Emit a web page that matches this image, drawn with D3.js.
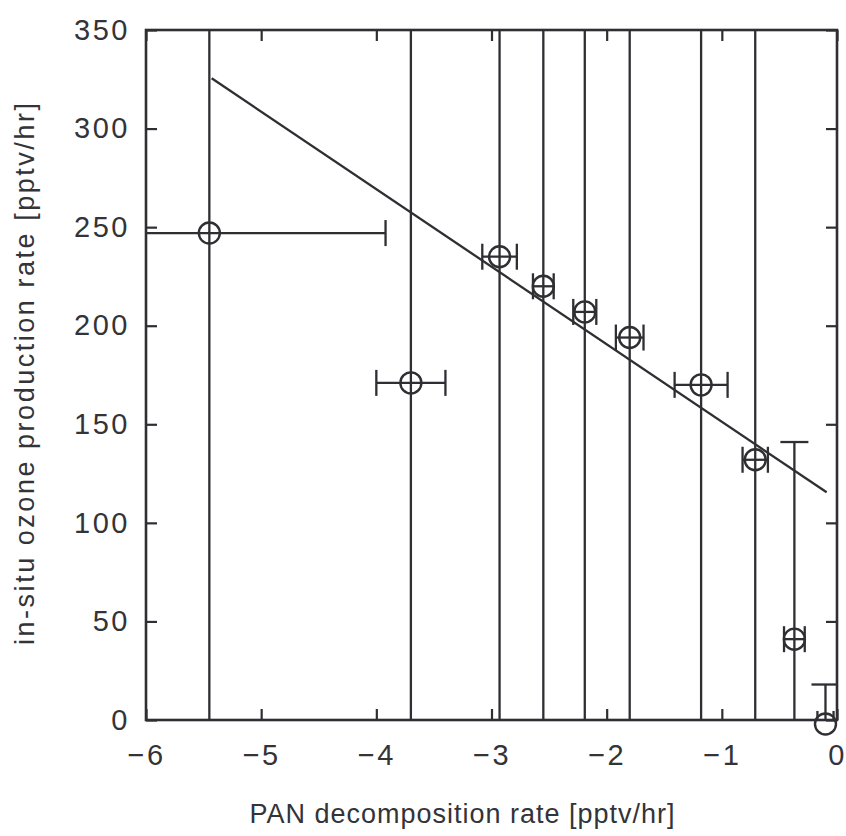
<!DOCTYPE html>
<html>
<head>
<meta charset="utf-8">
<script src="https://cdn.jsdelivr.net/npm/d3@7"></script>
<style>
  html, body { margin: 0; padding: 0; background: #ffffff; }
  svg { display: block; }
  text { font-family: "Liberation Sans", Arial, sans-serif; fill: #333338; }
</style>
</head>
<body>
<svg id="chart" width="846" height="836"></svg>
<script>
// ---- data ----
const pointX    = [-5.45, -3.70, -2.93, -2.55, -2.19, -1.80, -1.18, -0.71, -0.37, -0.10];
const pointY    = [247, 171, 235, 220, 207, 194, 170, 132, 41, -2];
const xErr      = [1.53, 0.30, 0.15, 0.09, 0.10, 0.12, 0.23, 0.11, 0.09, 0.07];
const yErr      = [400, 400, 400, 400, 400, 400, 400, 400, 100, 20]; // first eight run off the plot
const fitX      = [-5.43, -0.09];
const fitY      = [325.5, 115.5];
const xTicks    = [-6, -5, -4, -3, -2, -1, 0];
const yTicks    = [0, 50, 100, 150, 200, 250, 300, 350];
const xLabel    = "PAN decomposition rate [pptv/hr]";
const yLabel    = "in-situ ozone production rate [pptv/hr]";

// ---- layout ----
const L = 146, R = 837, T = 30, B = 720;
const ink = "#2e2e33";
const svg = d3.select("#chart");

const x = d3.scaleLinear().domain([-6, 0]).range([L, R]);
const y = d3.scaleLinear().domain([0, 350]).range([B, T]);

svg.append("defs").append("clipPath").attr("id", "plotClip")
  .append("rect").attr("x", L).attr("y", T).attr("width", R - L).attr("height", B - T);

// axes with inward ticks on all four sides
const fmt = d => d < 0 ? "\u2212" + Math.abs(d) : String(d);
const tickLen = 11;

const gBottom = svg.append("g").attr("transform", `translate(0,${B})`)
  .call(d3.axisBottom(x).tickValues(xTicks).tickSizeInner(-tickLen).tickSizeOuter(0).tickPadding(24).tickFormat(fmt));
const gTop = svg.append("g").attr("transform", `translate(0,${T})`)
  .call(d3.axisTop(x).tickValues(xTicks).tickSizeInner(-tickLen).tickSizeOuter(0).tickFormat(""));
const gLeft = svg.append("g").attr("transform", `translate(${L},0)`)
  .call(d3.axisLeft(y).tickValues(yTicks).tickSizeInner(-tickLen).tickSizeOuter(0).tickPadding(16).tickFormat(fmt));
const gRight = svg.append("g").attr("transform", `translate(${R},0)`)
  .call(d3.axisRight(y).tickValues(yTicks).tickSizeInner(-tickLen).tickSizeOuter(0).tickFormat(""));

[gBottom, gTop, gLeft, gRight].forEach(g => {
  g.select(".domain").remove();
  g.selectAll(".tick line").attr("stroke", ink).attr("stroke-width", 2.2);
  g.selectAll(".tick text")
    .style("font-family", "'Liberation Sans', Arial, sans-serif")
    .style("font-size", "29px")
    .style("letter-spacing", "2.5px")
    .attr("fill", "#333338");
});
gBottom.selectAll(".tick text").attr("dy", "0.71em");

// frame
svg.append("rect").attr("x", L).attr("y", T).attr("width", R - L).attr("height", B - T)
  .attr("fill", "none").attr("stroke", ink).attr("stroke-width", 2.6);

const pts = pointX.map((v, i) => ({ x: v, y: pointY[i], ex: xErr[i], ey: yErr[i] }));

// error bars (clipped to frame)
const gErr = svg.append("g").attr("clip-path", "url(#plotClip)")
  .attr("stroke", ink).attr("stroke-width", 2.3).attr("fill", "none");
const capX = 13, capY = 14;
pts.forEach(p => {
  gErr.append("line").attr("x1", x(p.x)).attr("x2", x(p.x))
    .attr("y1", y(p.y - p.ey)).attr("y2", y(p.y + p.ey));
  [p.y - p.ey, p.y + p.ey].forEach(v => {
    gErr.append("line").attr("x1", x(p.x) - capY).attr("x2", x(p.x) + capY)
      .attr("y1", y(v)).attr("y2", y(v));
  });
  gErr.append("line").attr("x1", x(p.x - p.ex)).attr("x2", x(p.x + p.ex))
    .attr("y1", y(p.y)).attr("y2", y(p.y));
  [p.x - p.ex, p.x + p.ex].forEach(v => {
    gErr.append("line").attr("x1", x(v)).attr("x2", x(v))
      .attr("y1", y(p.y) - capX).attr("y2", y(p.y) + capX);
  });
});

// fit line
svg.append("path")
  .datum(fitX.map((v, i) => [v, fitY[i]]))
  .attr("d", d3.line().x(d => x(d[0])).y(d => y(d[1])))
  .attr("stroke", ink).attr("stroke-width", 2.3).attr("fill", "none");

// markers
svg.append("g").selectAll("circle").data(pts).join("circle")
  .attr("cx", d => x(d.x)).attr("cy", d => y(d.y)).attr("r", 10.5)
  .attr("fill", "none").attr("stroke", ink).attr("stroke-width", 2.4);

// axis titles
svg.append("text").attr("x", 462).attr("y", 823).attr("text-anchor", "middle")
  .attr("font-size", 27).attr("textLength", 425).attr("lengthAdjust", "spacing").text(xLabel);
svg.append("text").attr("transform", "translate(34,374) rotate(-90)")
  .attr("text-anchor", "middle").attr("font-size", 27)
  .attr("textLength", 542).attr("lengthAdjust", "spacing").text(yLabel);
</script>
</body>
</html>
